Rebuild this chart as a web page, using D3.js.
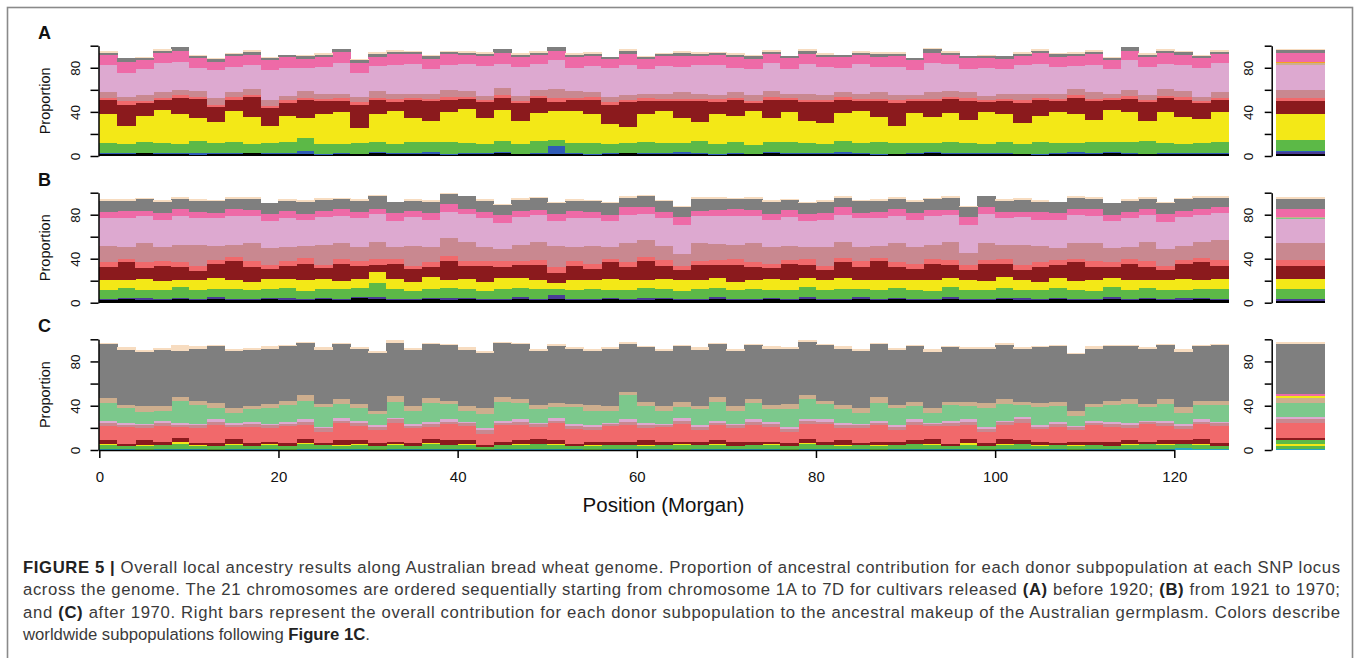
<!DOCTYPE html>
<html>
<head>
<meta charset="utf-8">
<script src="https://cdn.jsdelivr.net/npm/d3@7"></script>
<style>
  body { margin: 0; background: #fff; }
  svg { display: block; font-family: "Liberation Sans", Arial, sans-serif; }
</style>
</head>
<body>
<svg id="chart" width="1358" height="658"></svg>
<script>
// ---- genome positions (Morgan), each block is 2 Morgan wide ----
const positions = [
  0,2,4,6,8,10,12,14,16,18,
  20,22,24,26,28,30,32,34,36,38,
  40,42,44,46,48,50,52,54,56,58,
  60,62,64,66,68,70,72,74,76,78,
  80,82,84,86,88,90,92,94,96,98,
  100,102,104,106,108,110,112,114,116,118,
  120,122,124
];
const xTicks = [0, 20, 40, 60, 80, 100, 120];
const yTicks = [0, 20, 40, 60, 80, 100];

// subpopulation colours (Figure 1C)
const colors = {
  black: "#000000", purple: "#4a3c96", blue: "#2f5bb7", teal: "#26a7c0",
  green: "#5cb947", yellow: "#f3e817", darkred: "#8b1a1d", salmon: "#f1696b",
  rose: "#c98890", mauve: "#dda9d0", seafoam: "#7cc88c", tan: "#cdae8e",
  orange: "#f4a21f", pink: "#ee6aa7", grey: "#7f7f7f", beige: "#f7dcc0"
};

// ---- A: before 1920 ----
const keysA = ["black","blue","green","yellow","darkred","salmon","rose","mauve","pink","grey","beige"];
const blackA = [2,2,3,2,2,1,2,2,3,2, 2,2,1,2,2,3,2,2,2,1, 2,2,3,2,2,2,2,1,2,3, 2,2,2,2,1,2,2,3,2,2, 2,2,2,1,2,2,3,2,2,2, 2,2,1,2,2,2,3,2,2,2, 2,2,2];
const blueA = [1,1,0,1,1,2,1,1,0,1, 1,3,1,1,0,1,1,1,2,1, 1,1,1,0,1,7,1,1,1,0, 1,1,2,1,1,1,0,1,1,1, 1,2,1,1,0,1,1,1,1,1, 1,0,1,1,2,1,1,1,0,1, 1,1,1];
const greenA = [9,8,10,9,8,11,9,10,8,9, 10,12,9,8,10,9,8,10,9,11, 9,8,10,9,11,6,9,10,8,9, 10,9,8,11,9,10,8,9,10,9, 8,10,9,11,10,9,8,10,9,8, 10,9,11,9,8,10,9,10,12,9, 8,9,10];
const yellowA = [26,17,24,30,27,21,19,28,25,16, 24,18,27,29,14,25,30,22,19,27, 31,24,28,21,25,26,29,26,18,15, 25,29,23,17,27,24,31,22,27,20, 19,25,29,23,16,27,24,26,21,29, 25,19,24,28,26,20,29,27,18,28, 25,22,27];
const darkredA = [13,19,11,9,15,17,14,10,18,16, 11,16,12,10,21,13,8,16,18,11, 9,14,11,16,14,8,10,13,18,22, 12,9,15,19,11,14,7,16,11,17, 19,12,9,14,20,11,14,13,17,9, 12,18,14,10,15,17,9,12,17,13, 15,14,11];
const salmonA = [2,3,2,2,3,2,2,3,2,2, 3,2,2,3,2,2,3,2,2,3, 2,2,3,2,2,4,2,3,2,2, 3,2,2,2,3,2,2,3,2,2, 2,3,2,2,3,2,2,2,3,2, 2,3,2,2,3,2,2,3,2,2, 3,2,2];
const roseA = [5,4,6,5,4,5,6,4,5,5, 4,6,5,4,5,6,5,4,5,6, 5,4,6,5,5,8,6,4,5,5, 4,5,6,5,4,5,6,5,4,6, 5,4,5,6,5,4,6,5,5,4, 5,6,4,5,5,6,4,5,5,6, 5,4,5];
const mauveA = [25,22,23,27,26,21,25,23,22,27, 25,21,24,28,22,23,26,27,22,23, 25,27,22,26,24,26,21,24,26,27, 22,25,23,26,27,22,23,26,22,27, 25,22,27,23,25,22,27,25,21,25, 22,26,27,24,21,25,22,27,25,23, 24,26,27];
const pinkA = [9,10,8,9,10,9,8,10,9,9, 10,8,9,10,9,8,10,9,9,10, 8,9,10,9,8,9,10,9,8,10, 9,9,10,8,9,10,9,8,10,9, 9,10,8,9,10,9,9,8,10,9, 9,8,10,9,9,10,8,9,9,10, 9,9,8];
const greyA = [2,3,2,2,3,2,2,2,3,2, 2,3,2,2,2,3,2,2,3,2, 2,2,3,2,2,3,2,2,2,3, 2,2,3,2,2,2,3,2,2,3, 2,2,2,3,2,2,3,2,2,2, 3,2,2,3,2,2,2,3,2,2, 3,2,2];
const beigeA = [1,0,1,1,0,1,1,0,1,1, 0,1,1,0,1,1,1,0,1,0, 1,1,0,1,1,0,1,1,0,1, 1,0,1,1,0,1,1,1,0,1, 1,0,1,1,1,0,1,1,0,1, 0,1,1,0,1,1,1,0,1,1, 0,1,1];

// ---- B: 1921 to 1970 ----
const keysB = ["black","purple","green","yellow","darkred","salmon","rose","mauve","pink","grey","beige"];
const blackB = [3,4,3,3,4,3,4,3,3,4, 3,3,4,3,5,4,3,3,4,3, 4,3,3,4,3,4,3,3,4,3, 3,4,3,3,4,3,3,4,3,4, 3,3,4,3,4,3,3,4,3,3, 4,3,3,4,3,3,4,3,4,3, 3,4,3];
const purpleB = [1,1,2,1,1,1,2,1,1,1, 2,1,1,1,1,2,1,1,1,2, 1,1,1,2,1,3,1,1,1,1, 2,1,1,1,2,1,1,1,1,2, 1,1,2,1,1,1,1,2,1,1, 1,2,1,1,1,1,2,1,1,1, 2,1,1];
const greenB = [8,9,7,8,10,8,7,9,8,8, 9,7,8,9,8,12,9,7,8,9, 8,7,9,8,9,6,8,9,7,8, 9,8,7,9,8,8,9,7,8,9, 8,9,7,8,9,8,7,9,8,8, 9,7,8,9,8,7,9,8,9,8, 7,8,9];
const yellowB = [9,7,10,8,6,9,10,8,7,9, 8,10,9,7,8,10,9,8,11,7, 9,8,10,9,8,5,9,8,10,9, 7,9,10,8,9,7,8,10,9,8, 9,10,8,9,7,9,10,8,9,8, 10,9,7,9,8,10,8,9,7,9, 10,8,9];
const darkredB = [12,16,10,14,12,8,13,17,14,9, 12,15,10,16,12,7,14,12,9,17, 12,15,10,12,14,9,13,10,15,12, 17,12,9,14,12,16,12,10,15,12, 9,14,12,17,12,10,15,12,9,16, 12,9,14,12,17,12,10,15,12,9, 14,16,12];
const salmonB = [4,3,5,4,4,5,3,4,5,4, 4,5,3,4,4,5,4,3,4,5, 4,4,5,3,4,6,4,5,3,4, 4,5,4,3,4,5,4,4,3,5, 4,4,5,3,4,5,4,4,5,3, 4,5,4,4,3,5,4,4,5,4, 3,4,5];
const roseB = [15,11,18,13,16,19,13,11,17,15, 13,11,18,15,13,16,11,18,14,16, 18,13,11,15,17,19,13,16,11,18, 15,13,11,17,15,13,18,15,13,11, 17,15,13,11,18,15,13,17,11,16, 13,18,15,11,15,17,13,11,18,15, 13,15,18];
const mauveB = [25,26,24,25,26,24,25,26,24,25, 26,24,25,24,26,25,24,26,25,24, 25,26,24,25,24,23,26,25,24,25, 24,25,26,24,25,26,24,25,26,24, 25,24,26,25,24,25,26,24,25,26, 24,25,24,26,25,24,25,26,24,25, 26,24,25];
const pinkB = [6,7,5,6,7,6,5,7,6,6, 7,5,6,7,6,5,7,6,6,7, 5,6,7,6,5,6,7,6,5,7, 6,6,7,5,6,7,6,5,7,6, 6,7,5,6,7,6,6,5,7,6, 6,5,7,6,6,7,5,6,6,7, 6,6,5];
const greyB = [10,9,11,10,9,10,11,9,10,10, 9,11,10,9,10,11,10,9,10,9, 11,10,9,10,11,10,9,10,11,9, 10,10,9,11,10,9,10,11,9,10, 10,9,11,10,9,10,10,11,9,10, 10,11,9,10,10,9,11,10,9,10, 11,10,9];
const beigeB = [1,1,0,1,1,1,0,1,1,0, 1,1,1,0,1,1,0,1,1,1, 0,1,1,1,0,1,1,0,1,1, 1,0,1,1,1,0,1,1,0,1, 1,1,0,1,1,1,0,1,1,0, 1,1,1,0,1,1,0,1,1,1, 0,1,1];

// ---- C: after 1970 ----
const keysC = ["teal","green","yellow","darkred","salmon","rose","mauve","seafoam","tan","grey","beige"];
const tealC = [1,1,0,1,1,1,0,1,1,1, 0,1,1,1,1,0,1,1,1,1, 1,0,1,1,1,1,1,0,1,1, 1,1,0,1,1,1,1,1,0,1, 1,1,1,0,1,1,1,1,1,0, 1,1,1,1,0,1,1,1,1,1, 2,1,1];
const greenC = [4,3,4,4,5,3,4,4,3,4, 4,5,4,3,4,4,4,3,5,4, 4,3,4,4,5,4,3,4,4,4, 3,4,5,4,4,3,4,4,4,5, 4,3,4,4,4,5,4,3,4,4, 4,5,3,4,4,4,3,4,5,4, 4,4,3];
const yellowC = [1,0,1,0,2,1,0,1,0,1, 0,1,0,1,1,0,1,0,1,0, 1,0,0,1,0,1,0,1,0,0, 1,0,1,0,1,0,0,1,0,1, 0,1,0,1,0,0,1,0,2,0, 1,0,1,0,1,0,0,1,0,1, 0,1,0];
const darkredC = [3,2,4,3,3,2,3,4,3,2, 3,3,2,4,3,3,2,3,3,4, 3,2,3,3,4,3,2,3,3,3, 4,3,2,3,3,4,3,2,3,3, 3,4,2,3,3,3,4,2,3,3, 4,3,3,2,3,3,4,3,2,3, 3,4,3];
const salmonC = [13,15,11,14,10,13,16,11,14,12, 15,13,10,16,13,11,17,13,11,15, 13,10,15,14,11,16,13,10,14,15, 11,13,16,10,14,12,15,13,10,14, 16,11,13,15,10,14,12,16,13,10, 13,16,11,14,10,15,13,11,16,13, 10,14,15];
const roseC = [3,2,3,3,2,3,3,2,3,3, 2,3,3,2,3,3,3,2,3,2, 3,3,2,3,3,2,3,3,2,3, 3,2,3,3,2,3,3,3,2,3, 2,3,3,2,3,3,2,3,3,2, 3,3,2,3,3,2,3,3,2,3, 3,2,3];
const mauveC = [2,2,1,2,2,1,2,2,2,1, 2,2,1,2,2,2,1,2,2,2, 1,2,2,2,1,2,2,2,1,2, 2,1,2,2,2,1,2,2,2,1, 2,2,1,2,2,2,1,2,2,2, 1,2,2,2,1,2,2,2,1,2, 2,2,1];
const seafoamC = [16,13,11,9,20,17,10,9,11,14, 15,17,18,13,11,10,15,12,17,14, 10,13,17,15,12,10,15,13,11,22, 15,12,10,14,17,12,15,11,16,18, 14,12,10,16,15,12,9,14,12,17, 15,11,16,14,9,12,15,17,12,15, 10,13,15];
const tanC = [4,3,5,4,3,4,5,4,3,4, 4,5,3,4,4,3,5,4,4,3, 4,5,4,3,4,4,3,5,4,3, 4,4,5,3,4,4,3,4,5,4, 3,4,4,5,3,4,4,3,4,5, 4,3,4,4,5,3,4,4,3,4, 5,4,4];
const greyC = [49,50,49,51,42,47,51,52,51,50, 49,47,49,50,50,52,48,51,49,50, 51,50,49,50,49,51,50,49,52,43, 49,50,50,51,48,50,49,51,50,48, 50,51,52,48,50,50,51,49,48,49, 49,48,50,50,51,50,49,48,50,49, 50,49,50];
const beigeC = [1,2,1,1,5,2,1,1,1,2, 1,1,2,1,1,1,2,1,1,1, 2,1,1,1,1,2,1,1,1,2, 1,1,1,2,1,1,1,2,1,1, 1,2,1,1,1,1,2,1,1,1, 2,1,1,1,1,2,1,1,1,1, 2,1,1];

// ---- right bars: overall contribution ----
const barKeysA = ["black","purple","blue","green","yellow","darkred","salmon","rose","mauve","tan","orange","pink","grey","beige"];
const barValuesA = [2.5,1.5,1.2,9.8,23,12,3,7,22.4,2.6,0.4,8.6,2,1];
const barKeysB = ["black","purple","green","yellow","darkred","salmon","rose","mauve","seafoam","tan","orange","pink","grey","beige"];
const barValuesB = [2.2,1.5,9.3,9,12,5,16,21,1,1,0.5,7,9.5,1];
const barKeysC = ["teal","green","yellow","green","darkred","salmon","rose","mauve","seafoam","tan","yellow","pink","grey","beige"];
const barValuesC = [1.2,3,1.3,3.5,2,14,3,2,13,4.5,1.2,2,45.3,1.6];

const panels = [
  { label: "A", top: 45.7, bottom: 156, keys: keysA,
    cols: [blackA, blueA, greenA, yellowA, darkredA, salmonA, roseA, mauveA, pinkA, greyA, beigeA],
    barKeys: barKeysA, barValues: barValuesA },
  { label: "B", top: 192.7, bottom: 302.7, keys: keysB,
    cols: [blackB, purpleB, greenB, yellowB, darkredB, salmonB, roseB, mauveB, pinkB, greyB, beigeB],
    barKeys: barKeysB, barValues: barValuesB },
  { label: "C", top: 339.3, bottom: 450, keys: keysC,
    cols: [tealC, greenC, yellowC, darkredC, salmonC, roseC, mauveC, seafoamC, tanC, greyC, beigeC],
    barKeys: barKeysC, barValues: barValuesC }
];

const svg = d3.select("#chart");

// outer frame
svg.append("rect")
  .attr("x", 7.5).attr("y", 7.5)
  .attr("width", 1345).attr("height", 700)
  .attr("fill", "none")
  .attr("stroke", "#8a8a8a")
  .attr("stroke-width", 1.6);

const x = d3.scaleLinear().domain([0, 120]).range([99.3, 1174.3]);
const step = positions[1] - positions[0];
const barX0 = 1276, barX1 = 1325;

function styleAxis(g) {
  g.select(".domain").attr("stroke", "#000").attr("stroke-width", 1.5);
  g.selectAll(".tick line").attr("stroke", "#000").attr("stroke-width", 1.5);
}

function rotateLabels(g, offset) {
  g.selectAll(".tick text")
    .attr("x", 0)
    .attr("y", -offset)
    .attr("dy", null)
    .attr("transform", "rotate(-90)")
    .attr("text-anchor", "middle")
    .attr("fill", "#111")
    .style("font-size", "13.5px");
}

panels.forEach(p => {
  const y = d3.scaleLinear().domain([0, 100]).range([p.bottom, p.top]);

  const rows = positions.map((pos, i) => {
    const r = { pos: pos };
    p.keys.forEach((k, j) => { r[k] = p.cols[j][i]; });
    return r;
  });
  const stacked = d3.stack().keys(p.keys)(rows);

  const layer = svg.append("g")
    .selectAll("g")
    .data(stacked)
    .join("g")
    .attr("fill", d => colors[d.key]);

  layer.selectAll("rect")
    .data(d => d)
    .join("rect")
    .attr("x", d => x(d.data.pos))
    .attr("width", d => x(d.data.pos + step) - x(d.data.pos) + 0.6)
    .attr("y", d => y(d[1]))
    .attr("height", d => Math.max(0, y(d[0]) - y(d[1]) + 0.4))
    .attr("shape-rendering", "crispEdges");

  // left axis
  const gy = svg.append("g")
    .attr("transform", "translate(98.5,0)")
    .call(d3.axisLeft(y).tickValues(yTicks).tickSize(8).tickSizeOuter(0)
      .tickFormat(d => d % 40 === 0 ? d : ""));
  styleAxis(gy);
  rotateLabels(gy, 19);

  svg.append("text")
    .attr("transform", `translate(49.5,${(p.top + p.bottom) / 2}) rotate(-90)`)
    .attr("text-anchor", "middle")
    .style("font-size", "14.5px")
    .attr("fill", "#111")
    .text("Proportion");

  svg.append("text")
    .attr("x", 38)
    .attr("y", p.top - 7)
    .style("font-size", "18px")
    .style("font-weight", "bold")
    .attr("fill", "#111")
    .text(p.label);

  // right bar
  const ends = d3.cumsum(p.barValues);
  svg.append("g")
    .selectAll("rect")
    .data(p.barValues)
    .join("rect")
    .attr("x", barX0)
    .attr("width", barX1 - barX0)
    .attr("y", (d, i) => y(ends[i]))
    .attr("height", (d, i) => y(ends[i] - d) - y(ends[i]) + 0.3)
    .attr("fill", (d, i) => colors[p.barKeys[i]])
    .attr("shape-rendering", "crispEdges");

  const gr = svg.append("g")
    .attr("transform", "translate(1271.7,0)")
    .call(d3.axisLeft(y).tickValues(yTicks).tickSize(7).tickSizeOuter(0)
      .tickFormat(d => d % 40 === 0 ? d : ""));
  styleAxis(gr);
  rotateLabels(gr, 18.5);
});

// x axis under panel C
const gx = svg.append("g")
  .attr("transform", "translate(0,450)")
  .call(d3.axisBottom(x).tickValues(xTicks).tickSize(8).tickSizeOuter(0));
styleAxis(gx);
gx.selectAll(".tick text")
  .attr("y", 21)
  .attr("fill", "#111")
  .style("font-size", "15px");

svg.append("text")
  .attr("x", 663.5)
  .attr("y", 511.5)
  .attr("text-anchor", "middle")
  .style("font-size", "20.5px")
  .attr("fill", "#111")
  .text("Position (Morgan)");

// caption
const captionLines = [
  [["FIGURE 5 | ", true], ["Overall local ancestry results along Australian bread wheat genome. Proportion of ancestral contribution for each donor subpopulation at each SNP locus", false]],
  [["across the genome. The 21 chromosomes are ordered sequentially starting from chromosome 1A to 7D for cultivars released ", false], ["(A)", true], [" before 1920; ", false], ["(B)", true], [" from 1921 to 1970;", false]],
  [["and ", false], ["(C)", true], [" after 1970. Right bars represent the overall contribution for each donor subpopulation to the ancestral makeup of the Australian germplasm. Colors describe", false]],
  [["worldwide subpopulations following ", false], ["Figure 1C", true], [".", false]]
];

captionLines.forEach((parts, i) => {
  const t = svg.append("text")
    .attr("x", 23)
    .attr("y", 572.5 + i * 22.5)
    .style("font-size", "16.7px")
    .attr("fill", "#3a3a3a");
  parts.forEach(([s, bold]) => {
    t.append("tspan")
      .attr("font-weight", bold ? "bold" : null)
      .attr("fill", bold ? "#222" : null)
      .text(s);
  });
  if (i < captionLines.length - 1) {
    t.attr("textLength", 1317).attr("lengthAdjust", "spacing");
  }
});
</script>
</body>
</html>
